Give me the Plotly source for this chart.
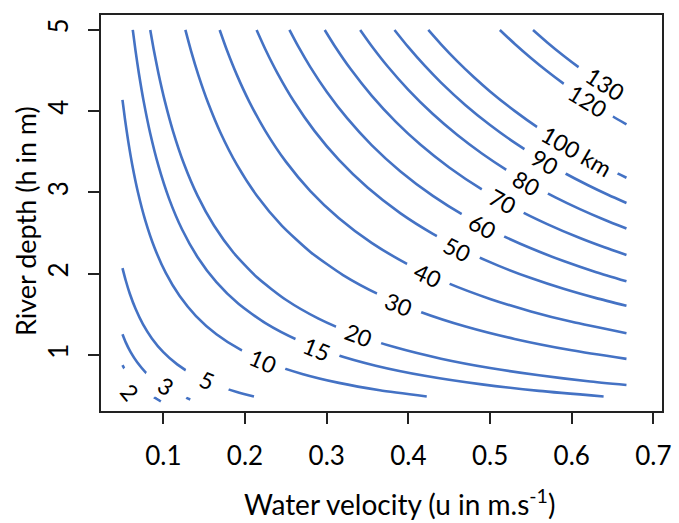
import plotly.graph_objects as go

# ---- data (u = water velocity, h = river depth) ----
levels = [2, 3, 5, 10, 15, 20, 30, 40, 50, 60, 70, 80, 90, 100, 120, 130]

u_2 = [0.05, 0.055, 0.062, 0.07, 0.08, 0.09, 0.097]
h_2 = [0.875, 0.785, 0.695, 0.614, 0.535, 0.472, 0.43]
u_3 = [0.05, 0.054, 0.06, 0.068, 0.078, 0.09, 0.105, 0.12, 0.133]
h_3 = [1.255, 1.155, 1.035, 0.91, 0.79, 0.683, 0.582, 0.506, 0.452]
u_5 = [0.05, 0.054, 0.059, 0.066, 0.075, 0.086, 0.1, 0.117, 0.138, 0.162, 0.19, 0.211]
h_5 = [2.07, 1.917, 1.754, 1.568, 1.38, 1.204, 1.035, 0.885, 0.75, 0.639, 0.545, 0.49]
u_10 = [0.05, 0.053, 0.057, 0.062, 0.069, 0.078, 0.089, 0.103, 0.12, 0.14, 0.165, 0.195, 0.23, 0.27, 0.315, 0.365, 0.4225]
h_10 = [4.14, 3.906, 3.632, 3.339, 3.0, 2.654, 2.326, 2.01, 1.725, 1.479, 1.255, 1.062, 0.9, 0.767, 0.657, 0.567, 0.49]
u_15 = [0.0626, 0.066, 0.07, 0.076, 0.084, 0.094, 0.107, 0.123, 0.142, 0.165, 0.192, 0.225, 0.265, 0.31, 0.36, 0.42, 0.49, 0.56, 0.639]
h_15 = [5.0, 4.742, 4.471, 4.118, 3.726, 3.33, 2.925, 2.545, 2.204, 1.897, 1.63, 1.391, 1.181, 1.01, 0.869, 0.745, 0.639, 0.559, 0.49]
u_20 = [0.084, 0.088, 0.094, 0.102, 0.112, 0.125, 0.142, 0.162, 0.186, 0.215, 0.25, 0.29, 0.335, 0.385, 0.44, 0.5, 0.56, 0.62, 0.667]
h_20 = [5.0, 4.773, 4.468, 4.118, 3.75, 3.36, 2.958, 2.593, 2.258, 1.953, 1.68, 1.448, 1.254, 1.091, 0.955, 0.84, 0.75, 0.677, 0.63]
u_30 = [0.127, 0.134, 0.143, 0.155, 0.17, 0.19, 0.215, 0.245, 0.28, 0.32, 0.365, 0.415, 0.47, 0.53, 0.6, 0.667]
h_30 = [5.0, 4.739, 4.441, 4.097, 3.735, 3.342, 2.953, 2.592, 2.268, 1.984, 1.74, 1.53, 1.351, 1.198, 1.058, 0.952]
u_40 = [0.169, 0.178, 0.19, 0.205, 0.225, 0.25, 0.28, 0.315, 0.355, 0.4, 0.45, 0.5, 0.55, 0.6, 0.667]
h_40 = [5.0, 4.747, 4.447, 4.122, 3.756, 3.38, 3.018, 2.683, 2.38, 2.113, 1.878, 1.69, 1.536, 1.408, 1.267]
u_50 = [0.2142, 0.225, 0.24, 0.26, 0.285, 0.315, 0.35, 0.39, 0.43, 0.47, 0.51, 0.55, 0.59, 0.63, 0.667]
h_50 = [5.0, 4.76, 4.463, 4.119, 3.758, 3.4, 3.06, 2.746, 2.491, 2.279, 2.1, 1.947, 1.815, 1.7, 1.606]
u_60 = [0.2544, 0.265, 0.28, 0.3, 0.325, 0.355, 0.39, 0.43, 0.47, 0.51, 0.55, 0.59, 0.63, 0.667]
h_60 = [5.0, 4.8, 4.543, 4.24, 3.914, 3.583, 3.262, 2.958, 2.706, 2.494, 2.313, 2.156, 2.019, 1.907]
u_70 = [0.2976, 0.31, 0.33, 0.355, 0.385, 0.415, 0.45, 0.49, 0.53, 0.57, 0.61, 0.64, 0.667]
h_70 = [5.0, 4.8, 4.509, 4.192, 3.865, 3.586, 3.307, 3.037, 2.808, 2.611, 2.439, 2.325, 2.231]
u_80 = [0.341, 0.355, 0.375, 0.4, 0.43, 0.46, 0.49, 0.52, 0.55, 0.58, 0.61, 0.64, 0.667]
h_80 = [5.0, 4.803, 4.547, 4.263, 3.965, 3.707, 3.48, 3.279, 3.1, 2.94, 2.795, 2.664, 2.556]
u_90 = [0.383, 0.4, 0.42, 0.44, 0.47, 0.5, 0.53, 0.56, 0.59, 0.62, 0.645, 0.667]
h_90 = [5.0, 4.788, 4.56, 4.352, 4.074, 3.83, 3.613, 3.42, 3.246, 3.089, 2.969, 2.871]
u_100 = [0.4244, 0.44, 0.46, 0.48, 0.5, 0.53, 0.56, 0.59, 0.62, 0.645, 0.667]
h_100 = [5.0, 4.823, 4.613, 4.421, 4.244, 4.004, 3.789, 3.597, 3.423, 3.29, 3.181]
u_120 = [0.512, 0.53, 0.55, 0.57, 0.59, 0.61, 0.63, 0.65, 0.667]
h_120 = [5.0, 4.83, 4.655, 4.491, 4.339, 4.197, 4.063, 3.938, 3.838]
u_130 = [0.5526, 0.57, 0.59, 0.61, 0.63, 0.65, 0.667]
h_130 = [5.0, 4.847, 4.683, 4.53, 4.386, 4.251, 4.142]

contour_u = [u_2, u_3, u_5, u_10, u_15, u_20, u_30, u_40, u_50, u_60, u_70, u_80, u_90, u_100, u_120, u_130]
contour_h = [h_2, h_3, h_5, h_10, h_15, h_20, h_30, h_40, h_50, h_60, h_70, h_80, h_90, h_100, h_120, h_130]
label_text = ["2", "3", "5", "10", "15", "20", "30", "40", "50", "60", "70", "80", "90", "100 km", "120", "130"]

x_ticks = [0.1, 0.2, 0.3, 0.4, 0.5, 0.6, 0.7]
x_ticktext = ["0.1", "0.2", "0.3", "0.4", "0.5", "0.6", "0.7"]
y_ticks = [1, 2, 3, 4, 5]
y_ticktext = ["1", "2", "3", "4", "5"]

# ---- label placement (layout) : (u, h, angle, box width px) ----
label_layout = [
    (0.0590, 0.545, 50, 20),
    (0.1036, 0.620, 32, 44),
    (0.1533, 0.690, 23, 44),
    (0.2222, 0.925, 23, 44),
    (0.2882, 1.080, 22, 44),
    (0.3394, 1.245, 21, 45),
    (0.3876, 1.625, 22, 45),
    (0.4237, 1.990, 25.5, 44),
    (0.4599, 2.310, 26, 45),
    (0.4904, 2.588, 28, 45),
    (0.5149, 2.890, 28.5, 45),
    (0.5448, 3.120, 29.5, 45),
    (0.5671, 3.370, 30.5, 45),
    (0.6060, 3.515, 30, 90),
    (0.6200, 4.130, 31.5, 56),
    (0.6410, 4.330, 33, 60),
]
# white patch that clears the level-2 line under its label (u, h corners)
gap2_u = [0.0608, 0.0952, 0.0777, 0.0432]
gap2_h = [0.918, 0.542, 0.375, 0.751]

FONT = "Lato"
BLUE = "#4472C4"

fig = go.Figure()
for uu, hh, lev in zip(contour_u, contour_h, levels):
    fig.add_trace(go.Scatter(x=uu, y=hh, mode="lines", name=str(lev),
                             line=dict(color=BLUE, width=2.6, shape="spline", smoothing=0.6),
                             hoverinfo="skip"))

path = "M " + " L ".join(f"{a},{b}" for a, b in zip(gap2_u, gap2_h)) + " Z"
fig.add_shape(type="path", path=path, xref="x", yref="y", fillcolor="white",
              line=dict(width=0), layer="above")

annotations = []
for txt, (lu, lh, ang, w) in zip(label_text, label_layout):
    annotations.append(dict(x=lu, y=lh, xref="x", yref="y", text=txt, showarrow=False,
                            textangle=ang, width=w, height=26, bgcolor="white",
                            xanchor="center", yanchor="middle",
                            font=dict(size=23, family=FONT, color="black")))

annotations.append(dict(x=0.5316, y=-0.232, xref="paper", yref="paper",
                        text="Water velocity (u in m.s<sup>-1</sup>)", showarrow=False,
                        xanchor="center", yanchor="middle",
                        font=dict(size=28, family=FONT, color="black")))
annotations.append(dict(x=-0.1347, y=0.481, xref="paper", yref="paper",
                        text="River depth (h in m)", showarrow=False, textangle=-90,
                        xanchor="center", yanchor="middle",
                        font=dict(size=27, family=FONT, color="black")))

axis_common = dict(showgrid=False, zeroline=False, showline=True, mirror=True,
                   linecolor="#222", linewidth=1.5, ticks="outside", ticklen=11,
                   tickwidth=1.5, tickcolor="#222",
                   tickfont=dict(size=26, family=FONT, color="black"))

fig.update_layout(
    width=679, height=523,
    margin=dict(l=101, r=8, t=15, b=112),
    paper_bgcolor="white", plot_bgcolor="white",
    showlegend=False,
    annotations=annotations,
    xaxis=dict(range=[0.0237, 0.7105], tickvals=x_ticks, ticktext=x_ticktext,
               ticklabelstandoff=10, **axis_common),
    yaxis=dict(range=[0.311, 5.184], tickvals=y_ticks, ticktext=y_ticktext,
               tickangle=-90, ticklabelstandoff=10, **axis_common),
)

fig.write_html("out.html", config={"displayModeBar": False},
               post_script="document.body.style.margin='0';document.body.style.padding='0';")
